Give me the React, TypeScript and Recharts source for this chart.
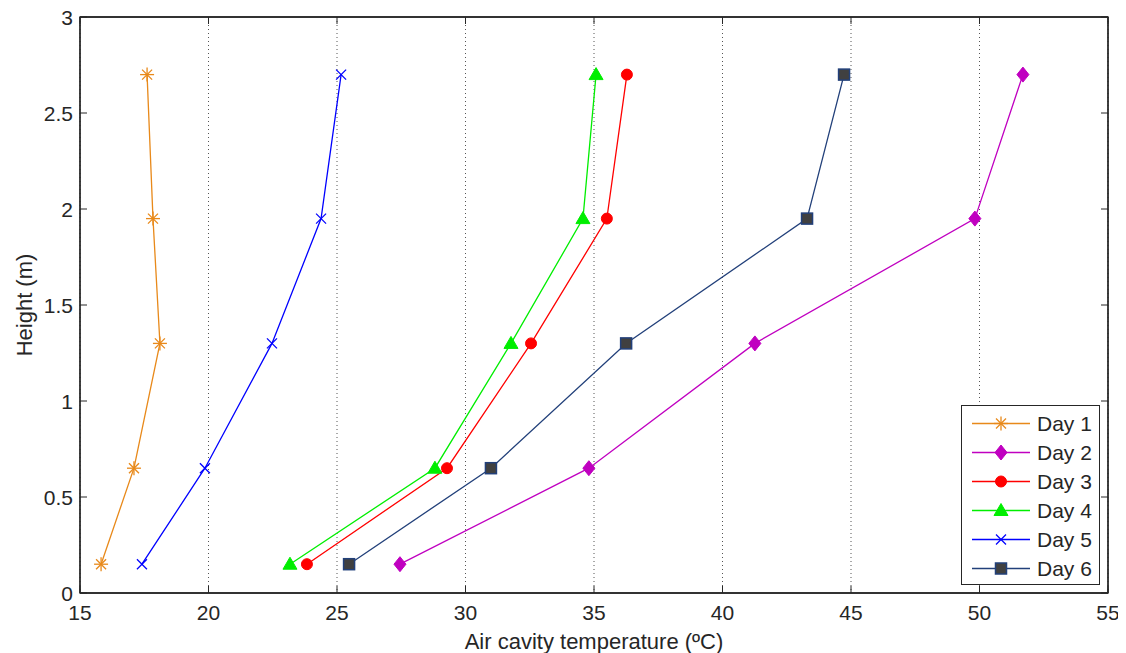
import React from "react";
import { LineChart, Line, XAxis, YAxis, CartesianGrid, ReferenceArea } from "recharts";

const heights = [0.15, 0.65, 1.3, 1.95, 2.7];
const day1 = [15.82, 17.1, 18.11, 17.84, 17.61];
const day2 = [27.45, 34.8, 41.26, 49.82, 51.69];
const day3 = [23.83, 29.28, 32.55, 35.5, 36.28];
const day4 = [23.17, 28.81, 31.77, 34.57, 35.08];
const day5 = [17.41, 19.86, 22.47, 24.38, 25.16];
const day6 = [25.47, 30.99, 36.25, 43.29, 44.73];
const xTicks = [15, 20, 25, 30, 35, 40, 45, 50, 55];
const yTicks = [0, 0.5, 1, 1.5, 2, 2.5, 3];
const seriesNames = ["Day 1", "Day 2", "Day 3", "Day 4", "Day 5", "Day 6"];

const toPoints = (temps: number[]) => temps.map((t, i) => ({ x: t, y: heights[i] }));

const FONT = "'Liberation Sans', Arial, sans-serif";
const AXIS = "#262626";
const TICK_FS = 21;
const LABEL_FS = 22;

type Shape = "star" | "diamond" | "circle" | "triangle" | "x" | "square";

const series: { name: string; data: number[]; color: string; fill: string; shape: Shape }[] = [
  { name: seriesNames[0], data: day1, color: "#E8891A", fill: "#E8891A", shape: "star" },
  { name: seriesNames[1], data: day2, color: "#C000C0", fill: "#C000C0", shape: "diamond" },
  { name: seriesNames[2], data: day3, color: "#FF0000", fill: "#FF0000", shape: "circle" },
  { name: seriesNames[3], data: day4, color: "#00EE00", fill: "#00EE00", shape: "triangle" },
  { name: seriesNames[4], data: day5, color: "#0000FF", fill: "#0000FF", shape: "x" },
  { name: seriesNames[5], data: day6, color: "#22407A", fill: "#404040", shape: "square" },
];

function Marker({ cx, cy, shape, color, fill }: { cx: number; cy: number; shape: Shape; color: string; fill: string }) {
  switch (shape) {
    case "star":
      return (
        <g stroke={color} strokeWidth={1.3}>
          <line x1={cx - 7} y1={cy} x2={cx + 7} y2={cy} />
          <line x1={cx} y1={cy - 7} x2={cx} y2={cy + 7} />
          <line x1={cx - 5} y1={cy - 5} x2={cx + 5} y2={cy + 5} />
          <line x1={cx - 5} y1={cy + 5} x2={cx + 5} y2={cy - 5} />
        </g>
      );
    case "diamond":
      return <polygon points={`${cx},${cy - 7.5} ${cx + 6},${cy} ${cx},${cy + 7.5} ${cx - 6},${cy}`} fill={fill} stroke={color} />;
    case "circle":
      return <circle cx={cx} cy={cy} r={5.5} fill={fill} stroke={color} />;
    case "triangle":
      return <polygon points={`${cx},${cy - 7} ${cx + 7},${cy + 5} ${cx - 7},${cy + 5}`} fill={fill} stroke={color} />;
    case "x":
      return (
        <g stroke={color} strokeWidth={1.3}>
          <line x1={cx - 5} y1={cy - 5} x2={cx + 5} y2={cy + 5} />
          <line x1={cx - 5} y1={cy + 5} x2={cx + 5} y2={cy - 5} />
        </g>
      );
    case "square":
      return <rect x={cx - 5.5} y={cy - 5.5} width={11} height={11} fill={fill} stroke={color} strokeWidth={1.5} />;
  }
  return null;
}

const makeDot = (shape: Shape, color: string, fill: string) => (props: any) => {
  const { cx, cy, index } = props;
  if (cx == null || cy == null) return <g key={index} />;
  return <Marker key={index} cx={cx} cy={cy} shape={shape} color={color} fill={fill} />;
};

const BottomTick = (props: any) => {
  const { x, y, payload } = props;
  return (
    <g>
      <line x1={x} y1={y} x2={x} y2={y - 7} stroke={AXIS} />
      <text x={x} y={y + 27} textAnchor="middle" fontFamily={FONT} fontSize={TICK_FS} fill={AXIS}>
        {payload.value}
      </text>
    </g>
  );
};

const TopTick = (props: any) => {
  const { x, y } = props;
  return <line x1={x} y1={y} x2={x} y2={y + 7} stroke={AXIS} />;
};

const LeftTick = (props: any) => {
  const { x, y, payload } = props;
  return (
    <g>
      <line x1={x} y1={y} x2={x + 7} y2={y} stroke={AXIS} />
      <text x={x - 7} y={y + 7.5} textAnchor="end" fontFamily={FONT} fontSize={TICK_FS} fill={AXIS}>
        {payload.value}
      </text>
    </g>
  );
};

const RightTick = (props: any) => {
  const { x, y } = props;
  return <line x1={x} y1={y} x2={x - 7} y2={y} stroke={AXIS} />;
};

const LegendBox = () => (
  <div
    style={{
      position: "absolute",
      left: 953,
      top: 405,
      border: `1px solid ${AXIS}`,
      background: "#fff",
      width: 139,
      height: 180,
      boxSizing: "border-box",
      paddingTop: 3,
    }}
  >
    {series.map((s) => (
      <div key={s.name} style={{ display: "flex", alignItems: "center", height: 29 }}>
        <svg width={75} height={29} style={{ display: "block" }}>
          <line x1={10} y1={14.5} x2={68} y2={14.5} stroke={s.color} strokeWidth={1.3} />
          <Marker cx={39} cy={14.5} shape={s.shape} color={s.color} fill={s.fill} />
        </svg>
        <span style={{ fontFamily: FONT, fontSize: TICK_FS, color: AXIS, lineHeight: "29px" }}>{s.name}</span>
      </div>
    ))}
  </div>
);

export default function App() {
  return (
    <div style={{ position: "relative", marginTop: -8, width: 1118, height: 653, background: "#fff" }}>
      <LineChart width={1118} height={653} margin={{ top: 16, right: 17, left: 0, bottom: 0 }}>
        <CartesianGrid
          xAxisId="b"
          yAxisId="l"
          horizontal={false}
          vertical={true}
          stroke="#555"
          strokeDasharray="1 3"
        />
        <XAxis
          xAxisId="b"
          type="number"
          dataKey="x"
          domain={[15, 55]}
          ticks={xTicks}
          allowDataOverflow
          height={60}
          tickSize={0}
          tickMargin={0}
          tickLine={false}
          axisLine={{ stroke: AXIS, strokeWidth: 1.3 }}
          tick={<BottomTick />}
          interval={0}
          label={{ value: "Air cavity temperature (ºC)", position: "insideBottom", offset: 4, style: { fontFamily: FONT, fontSize: LABEL_FS, fill: AXIS } }}
        />
        <XAxis
          xAxisId="t"
          orientation="top"
          type="number"
          dataKey="x"
          domain={[15, 55]}
          ticks={xTicks}
          allowDataOverflow
          height={1}
          tickSize={0}
          tickMargin={0}
          tickLine={false}
          axisLine={{ stroke: AXIS, strokeWidth: 1.3 }}
          tick={<TopTick />}
          interval={0}
        />
        <YAxis
          yAxisId="l"
          type="number"
          dataKey="y"
          domain={[0, 3]}
          ticks={yTicks}
          allowDataOverflow
          width={72}
          tickSize={0}
          tickMargin={0}
          tickLine={false}
          axisLine={{ stroke: AXIS, strokeWidth: 1.3 }}
          tick={<LeftTick />}
          interval={0}
          label={{ value: "Height (m)", angle: -90, position: "insideLeft", offset: 16, style: { fontFamily: FONT, fontSize: LABEL_FS, fill: AXIS, textAnchor: "middle" } }}
        />
        <YAxis
          yAxisId="r"
          orientation="right"
          type="number"
          dataKey="y"
          domain={[0, 3]}
          ticks={yTicks}
          allowDataOverflow
          width={1}
          tickSize={0}
          tickMargin={0}
          tickLine={false}
          axisLine={{ stroke: AXIS, strokeWidth: 1.3 }}
          tick={<RightTick />}
          interval={0}
        />
        <ReferenceArea
          xAxisId="b"
          yAxisId="l"
          x1={15}
          x2={55}
          y1={0}
          y2={3}
          fill="none"
          fillOpacity={0}
          stroke={AXIS}
          strokeWidth={1.3}
          ifOverflow="visible"
        />
        <Line
          xAxisId="t"
          yAxisId="r"
          data={toPoints(day1)}
          dataKey="y"
          stroke="none"
          dot={false}
          activeDot={false}
          legendType="none"
          isAnimationActive={false}
        />
        {series.map((s) => (
          <Line
            key={s.name}
            xAxisId="b"
            yAxisId="l"
            data={toPoints(s.data)}
            dataKey="y"
            name={s.name}
            stroke={s.color}
            strokeWidth={1.3}
            dot={makeDot(s.shape, s.color, s.fill)}
            activeDot={false}
            isAnimationActive={false}
          />
        ))}
      </LineChart>
      <LegendBox />
    </div>
  );
}
